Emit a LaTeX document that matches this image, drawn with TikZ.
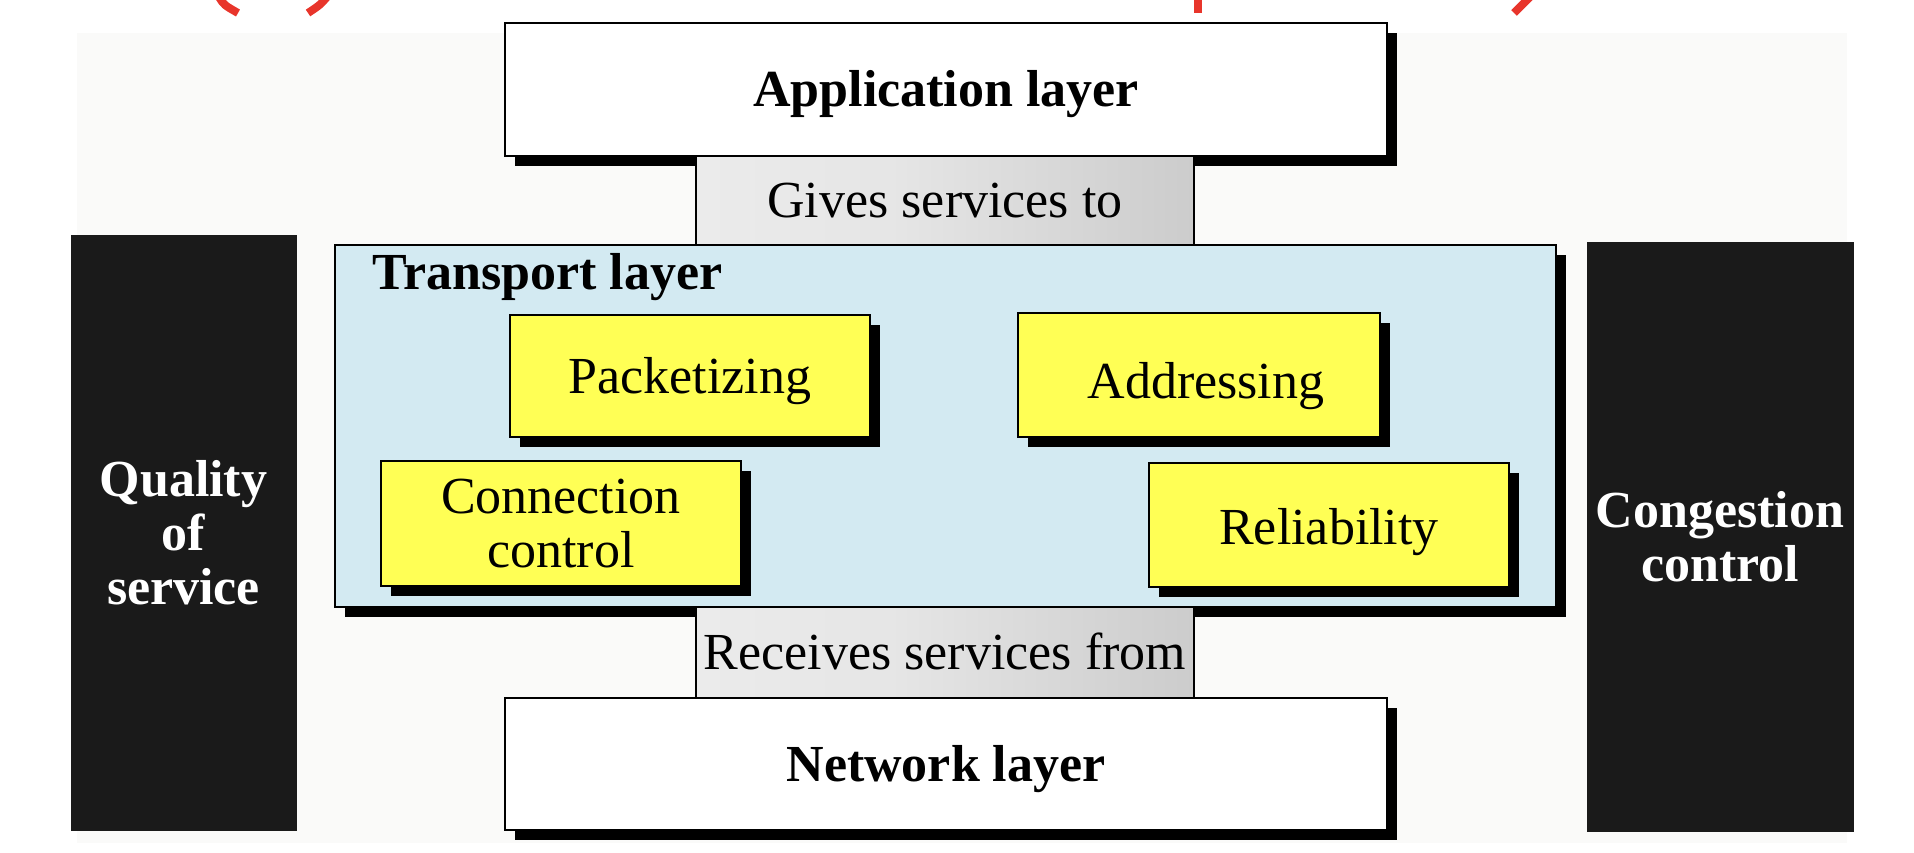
\documentclass[tikz,border=0pt]{standalone}
\usepackage{fontspec}
\setmainfont{Liberation Serif}
\usetikzlibrary{shadows}
\definecolor{bgc}{HTML}{FAFAF9}
\definecolor{tblue}{HTML}{D3EAF2}
\definecolor{ybox}{HTML}{FFFF55}
\definecolor{darkbox}{HTML}{1A1A1A}
\definecolor{titlered}{HTML}{E8352B}
\pgfdeclarehorizontalshading{svcshade}{100bp}{color(0bp)=(white!95!black); color(45bp)=(white!90!black); color(75bp)=(white!80!black); color(93bp)=(white!58!black); color(100bp)=(white!66!black)}
\tikzset{
  basefont/.style={font=\fontsize{26}{27}\selectfont},
  boldfont/.style={font=\fontsize{26}{27}\selectfont\bfseries},
  oneline/.style={text height=17.2pt, text depth=0pt},
  shadowed/.style={drop shadow={shadow xshift=5pt, shadow yshift=-5pt, fill=black, opacity=1}},
  layerbox/.style={draw=black, line width=1pt, fill=white, inner sep=0pt, shadowed, boldfont, oneline},
  tbox/.style={draw=black, line width=1pt, fill=tblue, inner sep=0pt, shadowed},
  funcbox/.style={draw=black, line width=1pt, fill=ybox, inner sep=0pt, shadowed, basefont, align=center},
  svcbox/.style={draw=black, line width=1pt, shading=svcshade, inner sep=0pt, basefont, oneline},
  sidebox/.style={fill=darkbox, draw=darkbox, inner sep=0pt, boldfont, text=white, align=center},
  redstroke/.style={titlered, line width=4pt}
}
\begin{document}
\begin{tikzpicture}[x=0.5pt, y=-0.5pt]
\useasboundingbox (0,0) rectangle (1914,852);
% faint background panel
\fill[bgc] (77,33) rectangle (1847,843);
% cut-off red title fragments
\draw[redstroke] (219,-3) .. controls (224,5) .. (238,13);
\draw[redstroke] (327,-3) .. controls (320,5) .. (308,13);
\draw[redstroke] (1198,-3) -- (1198,13);
\draw[redstroke] (1530,-3) -- (1514,13);
% side boxes
\node[sidebox, minimum width=112.5pt, minimum height=297.5pt] (qos) at (183.5,532.5) {Quality\\of\\service};
\node[sidebox, minimum width=133pt, minimum height=294.5pt] (cong) at (1720,536.5) {Congestion\\control};
% application layer
\node[layerbox, minimum width=441pt, minimum height=66.5pt] (app) at (946,89.5) {Application layer};
% transport layer
\node[tbox, minimum width=610.5pt, minimum height=181pt] (trans) at (945.5,426) {};
\node[boldfont, anchor=base west, inner sep=0pt] (translabel) at (372,289) {Transport layer};
\node[funcbox, oneline, minimum width=180pt, minimum height=61pt] (pack) at (690,376) {Packetizing};
\node[funcbox, text height=23pt, text depth=0pt, minimum width=181pt, minimum height=62pt] (addr) at (1199,375) {\hspace*{7pt}Addressing};
\node[funcbox, minimum width=180pt, minimum height=62.5pt] (conn) at (561,523.5) {Connection\\control};
\node[funcbox, text height=19pt, text depth=0pt, minimum width=180pt, minimum height=62pt] (rel) at (1329,525) {Reliability};
% service connectors
\node[svcbox, minimum width=249pt, minimum height=44.5pt] (gives) at (945,200.5) {Gives services to};
\node[svcbox, minimum width=249pt, minimum height=45.5pt] (recv) at (945,652.5) {Receives services from};
% network layer
\node[layerbox, minimum width=441pt, minimum height=66pt] (net) at (946,764) {Network layer};
\end{tikzpicture}
\end{document}
